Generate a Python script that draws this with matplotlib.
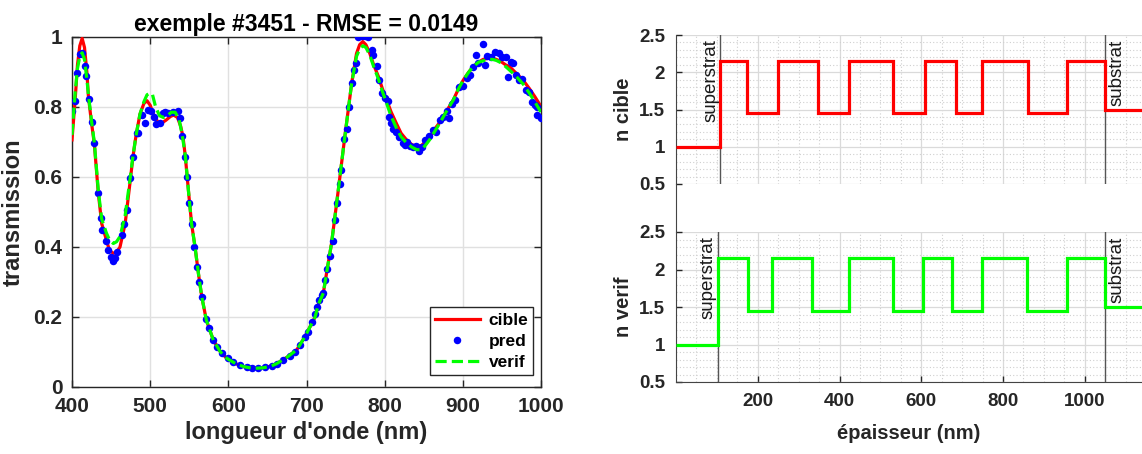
import matplotlib
matplotlib.use('Agg')
import matplotlib.pyplot as plt
from matplotlib.lines import Line2D
from matplotlib.ticker import MultipleLocator

plt.rcParams['font.family'] = ['Liberation Sans', 'DejaVu Sans']

# --- spectre : cible (rouge), verif (vert), pred (points bleus)
lam_cible = [400, 404, 407, 410, 413, 416, 419, 421, 425, 428.5, 433.7, 438, 444, 448, 452.9, 457, 461.4,
             468, 474, 478, 482, 487, 492, 496, 500, 505, 510, 514, 520, 526, 530, 535, 539, 542, 545,
             549, 553, 557.4, 562, 566, 572, 580.8, 590, 598, 610, 620, 632, 645, 655, 662, 675, 687.5,
             697, 704.5, 711, 715, 721.5, 726, 732, 740.7, 749, 757.8, 764, 768, 772, 776, 781, 786, 792,
             797, 802.6, 808, 815, 821, 828, 835, 841, 847, 852, 858, 864, 870.8, 875, 881, 887.8, 894,
             900.6, 907, 913, 920, 926, 932, 938, 943, 950, 955, 960, 968, 977, 985, 992, 998.7, 1000]
t_cible = [0.706, 0.82, 0.92, 0.975, 0.996, 0.97, 0.90, 0.83, 0.754, 0.696, 0.553, 0.467, 0.42, 0.39, 0.382,
           0.385, 0.40, 0.467, 0.58, 0.658, 0.72, 0.78, 0.81, 0.818, 0.805, 0.775, 0.757, 0.753, 0.762,
           0.773, 0.777, 0.77, 0.745, 0.715, 0.658, 0.56, 0.466, 0.40, 0.32, 0.258, 0.19, 0.134, 0.10,
           0.082, 0.066, 0.058, 0.053, 0.055, 0.06, 0.067, 0.085, 0.106, 0.14, 0.172, 0.20, 0.235, 0.268,
           0.33, 0.41, 0.563, 0.715, 0.868, 0.953, 0.978, 0.987, 0.978, 0.953, 0.92, 0.887, 0.853, 0.82,
           0.787, 0.753, 0.725, 0.706, 0.692, 0.688, 0.69, 0.70, 0.715, 0.737, 0.757, 0.772, 0.795, 0.82,
           0.85, 0.877, 0.898, 0.915, 0.928, 0.936, 0.939, 0.939, 0.936, 0.928, 0.92, 0.915, 0.897, 0.877,
           0.853, 0.83, 0.806, 0.80]

lam_verif = [400, 404, 407, 410, 413, 416, 419, 421, 425, 428.5, 433.7, 438, 444, 448, 452.9, 457, 461.4,
             468, 474, 478, 482, 487, 492, 496, 500, 503, 507, 512, 517, 522, 527, 532, 537, 541, 545,
             549, 553, 557.4, 562, 566, 572, 580.8, 590, 598, 610, 620, 632, 645, 655, 662, 675, 687.5,
             697, 704.5, 711, 715, 721.5, 726, 732, 740.7, 749, 757.8, 764, 768, 772, 776, 781, 786, 792,
             797, 802.6, 808, 815, 821, 828, 835, 841, 847, 852, 858, 864, 870.8, 875, 881, 887.8, 894,
             900.6, 907, 913, 920, 926, 932, 938, 943, 950, 955, 960, 968, 977, 985, 992, 998.7, 1000]
t_verif = [0.72, 0.84, 0.91, 0.945, 0.955, 0.935, 0.88, 0.835, 0.76, 0.70, 0.56, 0.48, 0.44, 0.42, 0.41,
           0.415, 0.43, 0.49, 0.59, 0.66, 0.72, 0.78, 0.815, 0.835, 0.84, 0.835, 0.80, 0.775, 0.77, 0.775,
           0.785, 0.785, 0.765, 0.72, 0.66, 0.56, 0.466, 0.40, 0.32, 0.258, 0.19, 0.134, 0.10,
           0.082, 0.066, 0.058, 0.053, 0.055, 0.06, 0.067, 0.085, 0.106, 0.14, 0.172, 0.20, 0.235, 0.268,
           0.33, 0.41, 0.563, 0.715, 0.868, 0.945, 0.965, 0.975, 0.97, 0.948, 0.915, 0.88, 0.845, 0.81,
           0.775, 0.74, 0.715, 0.697, 0.685, 0.678, 0.678, 0.69, 0.708, 0.73, 0.755, 0.772, 0.795, 0.82,
           0.85, 0.877, 0.898, 0.915, 0.928, 0.932, 0.936, 0.936, 0.933, 0.925, 0.915, 0.905, 0.888, 0.866,
           0.84, 0.815, 0.79, 0.786]

lam_pred = [400.4, 404, 407, 410, 412.4, 416.6, 418, 421.7, 425, 428.5, 433.7, 437, 438.8, 443, 445.7,
            449.5, 452.9, 454.6, 458, 464, 467, 470, 474.6, 478, 482.7, 485, 489, 493.4, 496.8, 501, 505,
            508, 512.6, 516.8, 519.6, 523, 529.6, 535, 538, 541, 544.6, 547.5, 550, 553, 556.5, 559.5,
            563, 566, 571.4, 575.6, 580.8, 585, 591.5, 600, 606.4, 615, 623.5, 630, 638.4, 647, 655.5,
            662, 670.3, 679, 685, 691.7, 698, 702, 706.6, 711, 713, 716.4, 719.4, 721.5, 723.7, 726.6,
            730, 733.5, 736.5, 739.4, 742.8, 744.5, 748, 751.4, 754.8, 757.8, 760.8, 763.3, 766.3, 770.6,
            774.8, 779, 783.4, 785.4, 790.6, 793, 796, 800.4, 803.8, 806, 808, 811, 814.5, 818.7, 823.8,
            826, 829, 832.4, 835.8, 840, 844.3, 848, 851.6, 857, 862, 865.6, 870.8, 875, 879.3, 882.7,
            885.7, 890, 895.5, 900.6, 905, 909, 912.6, 916.8, 919.8, 925.4, 928.4, 931.3, 935.6, 941,
            946.7, 949.7, 955, 958, 961.6, 964.6, 968, 972, 975.7, 980.8, 985, 988, 992.3, 994.4, 995.3,
            999.6]
t_pred = [0.79, 0.818, 0.898, 0.951, 0.955, 0.917, 0.89, 0.822, 0.758, 0.698, 0.553, 0.482, 0.449, 0.418,
          0.391, 0.372, 0.361, 0.37, 0.385, 0.434, 0.466, 0.506, 0.596, 0.658, 0.727, 0.727, 0.777, 0.755,
          0.791, 0.79, 0.772, 0.751, 0.753, 0.782, 0.785, 0.782, 0.787, 0.79, 0.770, 0.717, 0.658, 0.599,
          0.525, 0.466, 0.40, 0.344, 0.301, 0.258, 0.194, 0.168, 0.134, 0.115, 0.096, 0.082, 0.072, 0.063,
          0.056, 0.053, 0.053, 0.056, 0.061, 0.066, 0.077, 0.089, 0.101, 0.12, 0.144, 0.158, 0.187, 0.21,
          0.229, 0.249, 0.262, 0.269, 0.306, 0.336, 0.375, 0.418, 0.477, 0.527, 0.58, 0.62, 0.71, 0.736,
          0.799, 0.868, 0.906, 0.927, 0.999, 1.003, 1.003, 1.0, 0.963, 0.949, 0.917, 0.877, 0.841, 0.825,
          0.818, 0.772, 0.753, 0.736, 0.729, 0.713, 0.696, 0.691, 0.701, 0.689, 0.685, 0.688, 0.675, 0.685,
          0.706, 0.717, 0.734, 0.729, 0.763, 0.772, 0.79, 0.77, 0.809, 0.82, 0.858, 0.86, 0.882, 0.891,
          0.915, 0.949, 0.927, 0.98, 0.92, 0.946, 0.944, 0.958, 0.953, 0.944, 0.942, 0.887, 0.93, 0.927,
          0.891, 0.877, 0.879, 0.85, 0.844, 0.815, 0.806, 0.777, 0.799, 0.77]

# --- empilements (interfaces en nm, indices)
interf_cible = [108.6, 172.9, 249.9, 346.9, 424, 532, 609, 684, 748.4, 860.9, 957.2, 1049.4]
interf_verif = [102.7, 177, 236, 331.8, 424, 530, 603.9, 675.8, 748.4, 859, 956.2, 1049.4]
n_couches = [1.0, 2.155, 1.45, 2.155, 1.45, 2.155, 1.45, 2.155, 1.45, 2.155, 1.45, 2.155, 1.5]

W, H = 1142, 454
fig = plt.figure(figsize=(W / 100, H / 100), dpi=100)

def box(x0, x1, ytop, ybot):
    return [x0 / W, 1 - ybot / H, (x1 - x0) / W, (ybot - ytop) / H]

dark = '#262626'

# ---------- spectre
ax = fig.add_axes(box(72, 541, 37, 387))
ax.plot(lam_cible, t_cible, color='red', lw=2.3, label='cible', zorder=3)
ax.plot(lam_pred, t_pred, 'o', color='blue', ms=5.4, mec='none', label='pred', zorder=4)
ax.plot(lam_verif, t_verif, color='#00ff00', lw=2.3, ls=(0, (3.5, 1.6)), label='verif', zorder=5)
ax.set_xlim(400, 1000)
ax.set_ylim(0, 1)
ax.set_xticks([400, 500, 600, 700, 800, 900, 1000])
ax.set_yticks([0, 0.2, 0.4, 0.6, 0.8, 1])
ax.set_yticklabels(['0', '0.2', '0.4', '0.6', '0.8', '1'])
ax.grid(True, color='#e0e0e0', lw=1)
ax.set_axisbelow(True)
ax.tick_params(direction='in', top=True, right=True, length=5, width=1, colors=dark,
               labelsize=15, pad=7)
for lab in ax.get_xticklabels() + ax.get_yticklabels():
    lab.set_fontweight('bold')
for s in ax.spines.values():
    s.set_color(dark)
    s.set_linewidth(1)
ax.set_xlabel("longueur d'onde (nm)", fontsize=17, fontweight='bold', color=dark, labelpad=4)
ax.set_ylabel('transmission', fontsize=17, fontweight='bold', color=dark, labelpad=6)
ax.set_title('exemple #3451 - RMSE = 0.0149', fontsize=16.5, fontweight='bold', pad=4)
leg = ax.legend(loc='lower right', bbox_to_anchor=(0.984, 0.033), fancybox=False, framealpha=1,
                edgecolor=dark, prop={'weight': 'bold', 'size': 12.5}, handlelength=2.6,
                borderpad=0.3, labelspacing=0.35, handletextpad=0.5, borderaxespad=0)
leg.get_frame().set_linewidth(1)

# ---------- indices
def panel(ytop, ybot, interf, color, ylabel, bas):
    a = fig.add_axes(box(676, 1142, ytop, ybot))
    edges = [0] + interf + [1200]
    a.stairs(n_couches, edges, color=color, lw=2.3, baseline=None, zorder=4)
    a.set_xlim(0, 1140)
    a.set_ylim(0.5, 2.5)
    a.set_yticks([0.5, 1, 1.5, 2, 2.5])
    a.set_yticklabels(['0.5', '1', '1.5', '2', '2.5'])
    a.set_xticks([200, 400, 600, 800, 1000])
    a.xaxis.set_minor_locator(MultipleLocator(50))
    a.yaxis.set_minor_locator(MultipleLocator(0.1))
    a.grid(True, which='major', color='#dadada', lw=0.9)
    a.grid(True, which='minor', color='#cfcfcf', lw=0.8, ls=(0, (1, 2)))
    a.set_axisbelow(True)
    a.spines['top'].set_visible(False)
    a.spines['right'].set_visible(False)
    a.spines['left'].set_color('#444444')
    a.spines['bottom'].set_color('#444444')
    a.tick_params(which='both', direction='in', colors=dark, labelsize=13.5, width=1)
    a.tick_params(which='minor', length=0)
    a.tick_params(which='major', length=4, pad=8)
    for lab in a.get_xticklabels() + a.get_yticklabels():
        lab.set_fontweight('bold')
    if not bas:
        a.spines['bottom'].set_visible(False)
        a.tick_params(axis='x', which='both', bottom=False, labelbottom=False)
    a.axvline(interf[0], color='#555555', lw=1, zorder=3)
    a.axvline(interf[-1], color='#555555', lw=1, zorder=3)
    a.text(interf[0] - 3, 2.44, 'superstrat', rotation=90, ha='right', va='top', fontsize=13.5, color='#1a1a1a')
    a.text(interf[-1] + 8, 2.44, 'substrat', rotation=90, ha='left', va='top', fontsize=13.5, color='#1a1a1a')
    a.set_ylabel(ylabel, fontsize=14.5, fontweight='bold', color=dark, labelpad=4)
    return a

panel(35, 184, interf_cible, 'red', 'n cible', False)
a2 = panel(232, 382, interf_verif, '#00ff00', 'n verif', True)
a2.set_xlabel('épaisseur (nm)', fontsize=14.5, fontweight='bold', color=dark, labelpad=10)

fig.add_artist(Line2D([676 / W, 676 / W], [1 - 184 / H, 1 - 232 / H], color='#444444', lw=0.8))

fig.savefig('out.png', dpi=100)
